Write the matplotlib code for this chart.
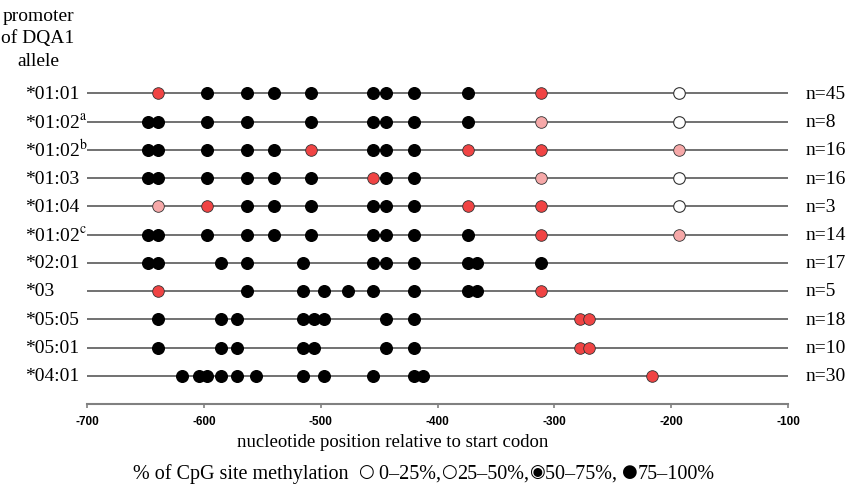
import matplotlib
matplotlib.use("Agg")
import matplotlib.pyplot as plt

plt.rcParams['mathtext.fontset'] = 'stix'

# DQA1 promoter alleles, top to bottom
alleles = ["*01:01", "*01:02$^{\\mathrm{a}}$", "*01:02$^{\\mathrm{b}}$", "*01:03", "*01:04",
           "*01:02$^{\\mathrm{c}}$", "*02:01", "*03", "*05:05", "*05:01", "*04:01"]
n_counts = [45, 8, 16, 16, 3, 14, 17, 5, 18, 10, 30]

# CpG positions by methylation class (per allele)
full_meth = [  # 75-100%
    [-597, -563, -540, -508, -455, -444, -420, -374],
    [-648, -639, -597, -563, -508, -455, -444, -420, -374],
    [-648, -639, -597, -563, -540, -455, -444, -420],
    [-648, -639, -597, -563, -540, -508, -444, -420],
    [-563, -540, -508, -455, -444, -420],
    [-648, -639, -597, -563, -540, -508, -455, -444, -420, -374],
    [-648, -639, -585, -563, -515, -455, -444, -420, -374, -366, -311],
    [-563, -515, -497, -477, -455, -420, -374, -366],
    [-639, -585, -572, -515, -506, -497, -444, -420],
    [-639, -585, -572, -515, -506, -444, -420],
    [-619, -604, -597, -585, -572, -555, -515, -497, -455, -420, -412],
]
high_meth = [  # 50-75%
    [-639, -311],
    [],
    [-508, -374, -311],
    [-455],
    [-597, -374, -311],
    [-311],
    [],
    [-639, -311],
    [-278, -270],
    [-278, -270],
    [-216],
]
mid_meth = [  # 25-50%
    [],
    [-311],
    [-193],
    [-311],
    [-639],
    [-193],
    [], [], [], [], [],
]
low_meth = [  # 0-25%
    [-193],
    [-193],
    [],
    [-193],
    [-193],
    [], [], [], [], [], [],
]
x_ticks = [-700, -600, -500, -400, -300, -200, -100]

W, H = 848, 489
fig = plt.figure(figsize=(W / 100, H / 100), dpi=100)
ax = fig.add_axes([87 / W, 1 - 405 / H, (788 - 87) / W, (405 - 80) / H])
ax.set_xlim(-700, -100)
ax.set_ylim(11.0, -0.51)

serif = ['Liberation Serif', 'DejaVu Serif']
dot_s = 70
for i in range(len(alleles)):
    ax.plot([-700, -100], [i, i], color='#4a4a4a', lw=1.1, zorder=1)
    ax.scatter(full_meth[i], [i] * len(full_meth[i]), s=dot_s, color='black', zorder=3)
    ax.scatter(high_meth[i], [i] * len(high_meth[i]), s=dot_s, color='#f04444',
               edgecolors='#333333', linewidths=0.6, zorder=3)
    ax.scatter(mid_meth[i], [i] * len(mid_meth[i]), s=dot_s, color='#f6a8a8',
               edgecolors='#333333', linewidths=0.6, zorder=3)
    ax.scatter(low_meth[i], [i] * len(low_meth[i]), s=dot_s, color='white',
               edgecolors='#333333', linewidths=0.8, zorder=3)
    fig.text(25 / W, 1 - (94.3 + i * 28.24) / H, alleles[i], family=serif, fontsize=14,
             va='center', ha='left')
    fig.text(806 / W, 1 - (94.3 + i * 28.24) / H, f"n={n_counts[i]}", family=serif,
             fontsize=14, va='center', ha='left')

for s in ['top', 'left', 'right']:
    ax.spines[s].set_visible(False)
ax.spines['bottom'].set_color('#808080')
ax.spines['bottom'].set_linewidth(1.5)
ax.set_yticks([])
ax.set_xticks(x_ticks)
ax.set_xticklabels([str(t) for t in x_ticks], fontweight='bold', fontsize=8.5,
                   family=['Liberation Sans Narrow', 'Liberation Sans'])
ax.tick_params(axis='x', direction='out', length=3, width=1.2, color='#808080', pad=5)

fig.text(38 / W, 1 - 39 / H, "promoter\nof DQA1\nallele", family=serif, fontsize=14,
         ha='center', va='center', linespacing=1.45)
fig.text(393 / W, 1 - 443 / H, "nucleotide position relative to start codon",
         family=serif, fontsize=13.5, ha='center', va='center')

# legend line built from chained text pieces
sym = ['DejaVu Sans']
pieces = [("% of CpG site methylation  ", serif, 14.5),
          ("\u25cb", sym, 13), (" 0\u201325%,", serif, 14.5),
          ("\u25cb", sym, 13), ("25\u201350%,", serif, 14.5),
          ("\u25c9", sym, 13), ("50\u201375%, ", serif, 14.5),
          ("\u25cf", sym, 13), ("75\u2013100%", serif, 14.5)]
first = fig.text(133 / W, 1 - 479 / H, pieces[0][0], family=pieces[0][1],
                 fontsize=pieces[0][2], ha='left', va='baseline')
prev = first
for txt, fam, fs in pieces[1:]:
    if fam is sym:
        prev = ax.annotate(txt, xy=(1, 0.5), xycoords=(prev, first), family=fam, fontsize=fs,
                           ha='left', va='center', xytext=(0, 1.5), textcoords='offset points',
                           annotation_clip=False)
    else:
        prev = ax.annotate(txt, xy=(1, 0), xycoords=(prev, first), family=fam, fontsize=fs,
                           ha='left', va='bottom', annotation_clip=False)

fig.savefig("out.png", dpi=100)
